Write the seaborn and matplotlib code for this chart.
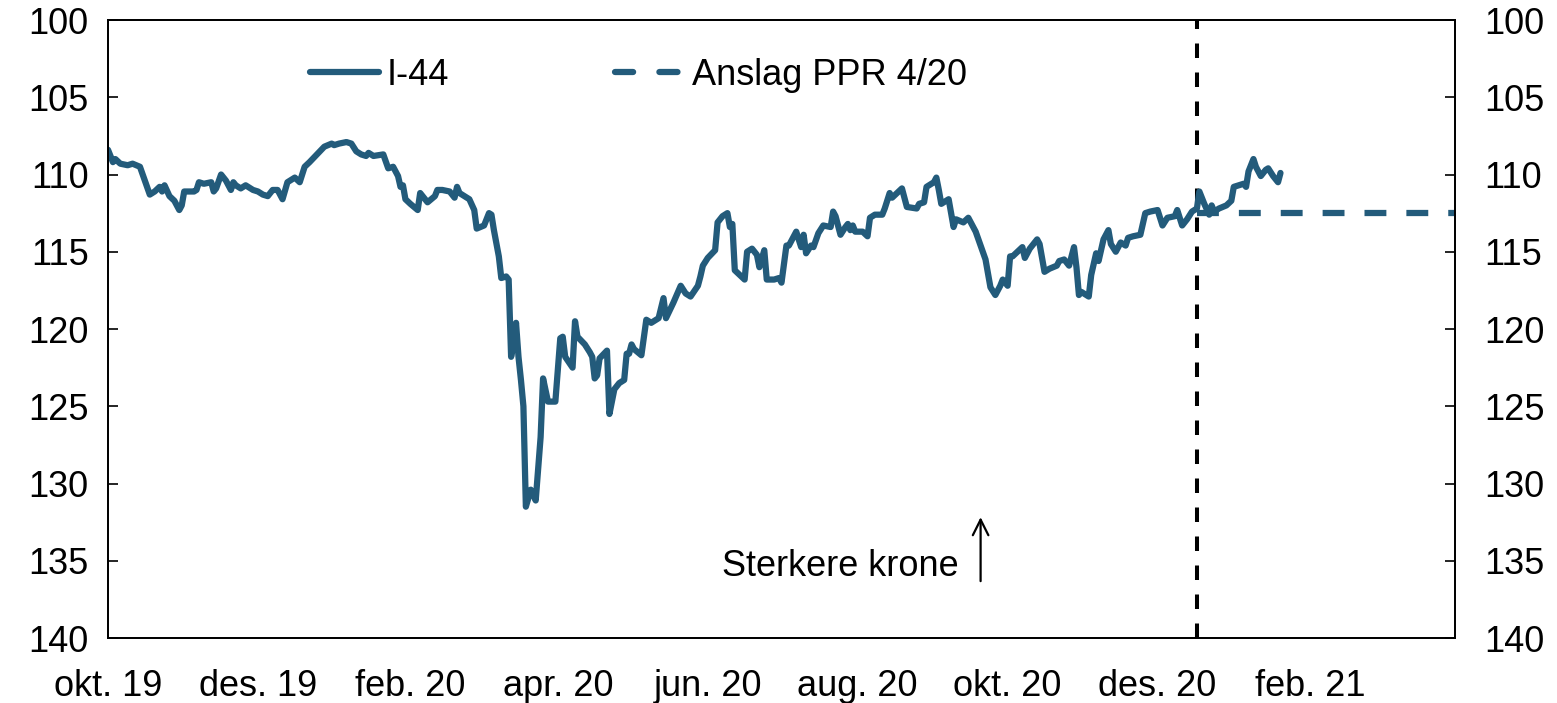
import matplotlib
matplotlib.use("Agg")
import matplotlib.pyplot as plt
import seaborn as sns
import pandas as pd
from matplotlib.lines import Line2D

# ---------------- data ----------------
i44_dates = [
    "2019-10-01", "2019-10-03", "2019-10-04", "2019-10-06", "2019-10-09", "2019-10-11", "2019-10-14",
    "2019-10-16", "2019-10-18", "2019-10-20", "2019-10-22", "2019-10-23", "2019-10-24", "2019-10-26",
    "2019-10-28", "2019-10-30", "2019-10-31", "2019-11-01", "2019-11-05", "2019-11-06", "2019-11-07",
    "2019-11-09", "2019-11-12", "2019-11-13", "2019-11-14", "2019-11-16", "2019-11-18", "2019-11-20",
    "2019-11-21", "2019-11-22", "2019-11-24", "2019-11-26", "2019-11-29", "2019-12-01", "2019-12-03",
    "2019-12-05", "2019-12-07", "2019-12-09", "2019-12-11", "2019-12-13", "2019-12-16", "2019-12-18",
    "2019-12-20", "2019-12-22", "2019-12-25", "2019-12-28", "2019-12-31", "2020-01-01", "2020-01-03",
    "2020-01-06", "2020-01-08", "2020-01-10", "2020-01-12", "2020-01-14", "2020-01-15", "2020-01-17",
    "2020-01-21", "2020-01-23", "2020-01-25", "2020-01-27", "2020-01-28", "2020-01-29", "2020-01-30",
    "2020-02-01", "2020-02-04", "2020-02-05", "2020-02-08", "2020-02-11", "2020-02-12", "2020-02-14",
    "2020-02-17", "2020-02-19", "2020-02-20", "2020-02-21", "2020-02-25", "2020-02-27", "2020-02-28",
    "2020-03-02", "2020-03-04", "2020-03-05", "2020-03-06", "2020-03-08", "2020-03-09", "2020-03-11",
    "2020-03-12", "2020-03-13", "2020-03-14", "2020-03-15", "2020-03-16", "2020-03-17", "2020-03-18",
    "2020-03-19", "2020-03-21", "2020-03-23", "2020-03-25", "2020-03-26", "2020-03-28", "2020-03-31",
    "2020-04-02", "2020-04-03", "2020-04-04", "2020-04-07", "2020-04-08", "2020-04-09", "2020-04-12",
    "2020-04-14", "2020-04-15", "2020-04-16", "2020-04-17", "2020-04-18", "2020-04-21", "2020-04-22",
    "2020-04-24", "2020-04-26", "2020-04-28", "2020-04-29", "2020-04-30", "2020-05-01", "2020-05-02",
    "2020-05-05", "2020-05-07", "2020-05-09", "2020-05-12", "2020-05-14", "2020-05-15", "2020-05-18",
    "2020-05-21", "2020-05-23", "2020-05-25", "2020-05-28", "2020-05-29", "2020-05-30", "2020-06-01",
    "2020-06-04", "2020-06-05", "2020-06-07", "2020-06-09", "2020-06-10", "2020-06-11", "2020-06-12",
    "2020-06-14", "2020-06-16", "2020-06-17", "2020-06-19", "2020-06-21", "2020-06-22", "2020-06-24",
    "2020-06-25", "2020-06-28", "2020-06-30", "2020-07-01", "2020-07-03", "2020-07-04", "2020-07-07",
    "2020-07-09", "2020-07-10", "2020-07-11", "2020-07-13", "2020-07-14", "2020-07-16", "2020-07-18",
    "2020-07-21", "2020-07-22", "2020-07-23", "2020-07-25", "2020-07-27", "2020-07-28", "2020-07-29",
    "2020-07-30", "2020-07-31", "2020-08-03", "2020-08-05", "2020-08-06", "2020-08-08", "2020-08-11",
    "2020-08-12", "2020-08-14", "2020-08-15", "2020-08-17", "2020-08-19", "2020-08-21", "2020-08-25",
    "2020-08-26", "2020-08-28", "2020-08-29", "2020-09-01", "2020-09-02", "2020-09-03", "2020-09-04",
    "2020-09-07", "2020-09-09", "2020-09-10", "2020-09-13", "2020-09-15", "2020-09-16", "2020-09-18",
    "2020-09-20", "2020-09-22", "2020-09-23", "2020-09-24", "2020-09-26", "2020-09-28", "2020-09-29",
    "2020-10-01", "2020-10-02", "2020-10-03", "2020-10-05", "2020-10-07", "2020-10-08", "2020-10-10",
    "2020-10-13", "2020-10-14", "2020-10-16", "2020-10-18", "2020-10-21", "2020-10-22", "2020-10-24",
    "2020-10-26", "2020-10-28", "2020-10-29", "2020-10-30", "2020-10-31", "2020-11-03", "2020-11-04",
    "2020-11-06", "2020-11-07", "2020-11-09", "2020-11-11", "2020-11-12", "2020-11-14", "2020-11-16",
    "2020-11-18", "2020-11-19", "2020-11-21", "2020-11-24", "2020-11-26", "2020-11-28", "2020-12-01",
    "2020-12-03", "2020-12-05", "2020-12-08", "2020-12-09", "2020-12-11", "2020-12-13", "2020-12-15",
    "2020-12-17", "2020-12-18", "2020-12-20", "2020-12-22", "2020-12-23", "2020-12-24", "2020-12-26",
    "2020-12-29", "2020-12-31", "2021-01-01", "2021-01-03", "2021-01-05", "2021-01-06", "2021-01-07",
    "2021-01-09", "2021-01-10", "2021-01-12", "2021-01-14", "2021-01-15", "2021-01-17", "2021-01-19",
    "2021-01-20",
]
i44_values = [
    108.4, 109.2, 109.0, 109.3, 109.4, 109.3, 109.5,
    110.4, 111.3, 111.1, 110.8, 111.1, 110.7, 111.4,
    111.7, 112.3, 112.0, 111.1, 111.1, 111.0, 110.5,
    110.6, 110.5, 111.1, 110.9, 110.0, 110.4, 111.0,
    110.5, 110.7, 110.9, 110.7, 111.0, 111.1, 111.3,
    111.4, 111.0, 111.0, 111.6, 110.5, 110.2, 110.5,
    109.5, 109.2, 108.7, 108.2, 108.0, 108.1, 108.0,
    107.9, 108.0, 108.5, 108.7, 108.8, 108.6, 108.8,
    108.7, 109.6, 109.5, 110.1, 110.8, 110.7, 111.6,
    111.9, 112.3, 111.2, 111.8, 111.4, 111.0, 111.0,
    111.1, 111.5, 110.8, 111.2, 111.6, 112.3, 113.5,
    113.3, 112.5, 112.6, 113.6, 115.3, 116.7, 116.6,
    116.8, 121.8, 120.9, 119.6, 121.8, 123.3, 125.0,
    131.5, 130.4, 131.1, 127.0, 123.2, 124.7, 124.7,
    120.6, 120.5, 121.8, 122.5, 119.5, 120.5, 121.0,
    121.5, 121.8, 123.2, 123.0, 121.9, 121.4, 125.5,
    123.9, 123.5, 123.3, 121.6, 121.6, 121.0, 121.3,
    121.7, 119.4, 119.6, 119.3, 118.0, 119.3, 118.3,
    117.2, 117.7, 117.9, 117.2, 116.6, 115.9, 115.4,
    114.9, 113.1, 112.7, 112.5, 113.4, 113.2, 116.2,
    116.5, 116.8, 115.0, 114.8, 115.2, 116.0, 114.9,
    116.8, 116.8, 116.7, 117.0, 114.6, 114.6, 113.7,
    114.7, 113.9, 115.1, 114.6, 114.7, 113.8, 113.3,
    113.4, 112.4, 112.7, 113.9, 113.4, 113.2, 113.6,
    113.3, 113.7, 113.7, 114.0, 112.8, 112.6, 112.6,
    112.2, 111.2, 111.5, 111.2, 110.9, 112.1, 112.2,
    111.9, 111.8, 110.8, 110.5, 110.2, 111.0, 111.9,
    111.6, 113.4, 112.9, 113.1, 112.8, 113.1, 113.7,
    114.6, 115.5, 116.4, 117.3, 117.8, 117.2, 116.8,
    117.2, 115.3, 115.3, 115.0, 114.7, 115.4, 114.8,
    114.2, 114.5, 116.3, 116.1, 115.9, 115.6, 115.5,
    115.9, 114.7, 116.0, 117.8, 117.6, 117.9, 116.5,
    115.1, 115.6, 114.2, 113.6, 114.5, 115.0, 114.4,
    114.6, 114.1, 114.0, 113.9, 112.5, 112.4, 112.3,
    113.3, 112.8, 112.7, 112.3, 113.3, 112.9, 112.4,
    112.2, 111.1, 111.9, 112.6, 112.0, 112.4, 112.2,
    112.0, 111.7, 110.8, 110.7, 110.6, 110.8, 109.8,
    109.0, 109.5, 110.1, 109.7, 109.6, 110.1, 110.5,
    109.9,
]
forecast_dates = ["2020-12-17", "2021-04-01"]
forecast_values = [112.5, 112.5]
ppr_date = "2020-12-17"

tick_dates = ["2019-10-01", "2019-12-01", "2020-02-01", "2020-04-01", "2020-06-01",
              "2020-08-01", "2020-10-01", "2020-12-01", "2021-02-01"]
tick_labels = ["okt. 19", "des. 19", "feb. 20", "apr. 20", "jun. 20",
               "aug. 20", "okt. 20", "des. 20", "feb. 21"]
y_ticks = [100, 105, 110, 115, 120, 125, 130, 135, 140]
series_names = ["I-44", "Anslag PPR 4/20"]
annotation_text = "Sterkere krone"

# ---------------- styling ----------------
sns.set_theme(style="white")
plt.rcParams["font.family"] = ["Liberation Sans", "DejaVu Sans"]
plt.rcParams["text.color"] = "black"
plt.rcParams["xtick.color"] = "black"
plt.rcParams["ytick.color"] = "black"
plt.rcParams["axes.labelcolor"] = "black"

LINE_COLOR = "#235B7B"
FS = 26
LW = 4.5

df = pd.DataFrame({"date": pd.to_datetime(i44_dates), "value": i44_values})
df_fc = pd.DataFrame({"date": pd.to_datetime(forecast_dates), "value": forecast_values})

fig = plt.figure(figsize=(15.57, 7.03), dpi=100)
ax = fig.add_axes([108 / 1557, 1 - 638 / 703, (1455 - 108) / 1557, (638 - 20) / 703])

sns.lineplot(data=df, x="date", y="value", ax=ax, color=LINE_COLOR, linewidth=LW)
sns.lineplot(data=df_fc, x="date", y="value", ax=ax, color=LINE_COLOR, linewidth=LW)
fc_line = ax.get_lines()[-1]
fc_line.set_dashes((3.5, 3.2))

ax.axvline(pd.Timestamp(ppr_date), color="black", linewidth=2.9, dashes=(3.6, 3.6), zorder=1)

ax.set_xlim(pd.Timestamp("2019-10-01"), pd.Timestamp("2021-04-01"))
ax.set_ylim(140, 100)
ax.set_yticks(y_ticks)
ax.set_yticklabels([str(v) for v in y_ticks], fontsize=FS)
ax.set_xticks(pd.to_datetime(tick_dates))
ax.set_xticklabels(tick_labels, fontsize=FS)
ax.set_xlabel("")
ax.set_ylabel("")
ax.tick_params(axis="x", length=0, pad=22)
ax.tick_params(axis="y", direction="in", length=7, width=1.2, pad=14, left=True)

ax2 = ax.twinx()
ax2.set_ylim(140, 100)
ax2.set_yticks(y_ticks)
ax2.set_yticklabels([str(v) for v in y_ticks], fontsize=FS)
ax2.tick_params(axis="y", direction="in", length=7, width=1.2, pad=21, right=True)

for a in (ax, ax2):
    for s in a.spines.values():
        s.set_color("black")
        s.set_linewidth(1.3)
        s.set_visible(True)

handles = [Line2D([0], [0], color=LINE_COLOR, linewidth=LW, solid_capstyle="round"),
           Line2D([0], [0], color=LINE_COLOR, linewidth=LW, dashes=(2.9, 4.2),
                  dash_capstyle="round")]
leg = ax.legend(handles, series_names, loc="center left", bbox_to_anchor=(0.15, 0.911),
                ncol=2, frameon=False, fontsize=FS, handlelength=1.9, handletextpad=0.22,
                columnspacing=4.6, borderpad=0, borderaxespad=0)

ax.annotate("", xy=(pd.Timestamp("2020-09-20"), 132.0), xycoords="data",
            xytext=(pd.Timestamp("2020-09-20"), 136.5),
            arrowprops=dict(arrowstyle="->", color="black", lw=1.6, mutation_scale=28))
ax.text(pd.Timestamp("2020-09-11"), 135.4, annotation_text, fontsize=FS,
        ha="right", va="center", color="black")

fig.savefig("out.png", dpi=100)
